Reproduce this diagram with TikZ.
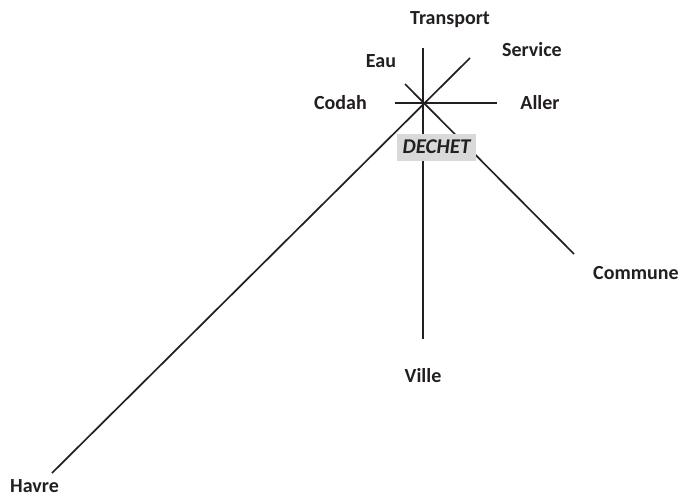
\documentclass[tikz,border=0pt]{standalone}
\usepackage{fontspec}
\setmainfont{Carlito}
\definecolor{ink}{HTML}{231F20}
\definecolor{boxgray}{HTML}{D9D9D9}
\tikzset{
  lbl/.style={font=\fontsize{20}{24}\selectfont\bfseries, text=ink, inner sep=0pt},
  ray/.style={draw=ink, line width=1.7pt},
}
\begin{document}
\begin{tikzpicture}[x=1pt,y=-1pt]
\useasboundingbox (0,0) rectangle (682,496);
\coordinate (c) at (423,103);
\coordinate (top) at (423,48);
\coordinate (bot) at (423,339);
\coordinate (lft) at (395,103);
\coordinate (rgt) at (497,103);
\coordinate (ne) at (470,58);
\coordinate (sw) at (52,473);
\coordinate (nw) at (405,84);
\coordinate (se) at (574,254);
\draw[ray] (top) -- (bot);
\draw[ray] (lft) -- (rgt);
\draw[ray] (ne) -- (sw);
\draw[ray] (nw) -- (se);
\node[lbl] (transport) at (450,20) {Transport};
\node[lbl] (service) at (532,50) {Service};
\node[lbl] (eau) at (381,61) {Eau};
\node[lbl, anchor=east] (codah) at (367,103) {Codah};
\node[lbl] (aller) at (540,103) {Aller};
\node[lbl, fill=boxgray, minimum width=79pt, minimum height=27pt, font=\fontsize{21}{24}\selectfont\bfseries\itshape] (dechet) at (436.5,147) {DECHET};
\node[lbl, anchor=west] (commune) at (593,273) {Commune};
\node[lbl] (ville) at (423,376) {Ville};
\node[lbl, anchor=base west] (havre) at (10,492) {Havre};
\end{tikzpicture}
\end{document}
